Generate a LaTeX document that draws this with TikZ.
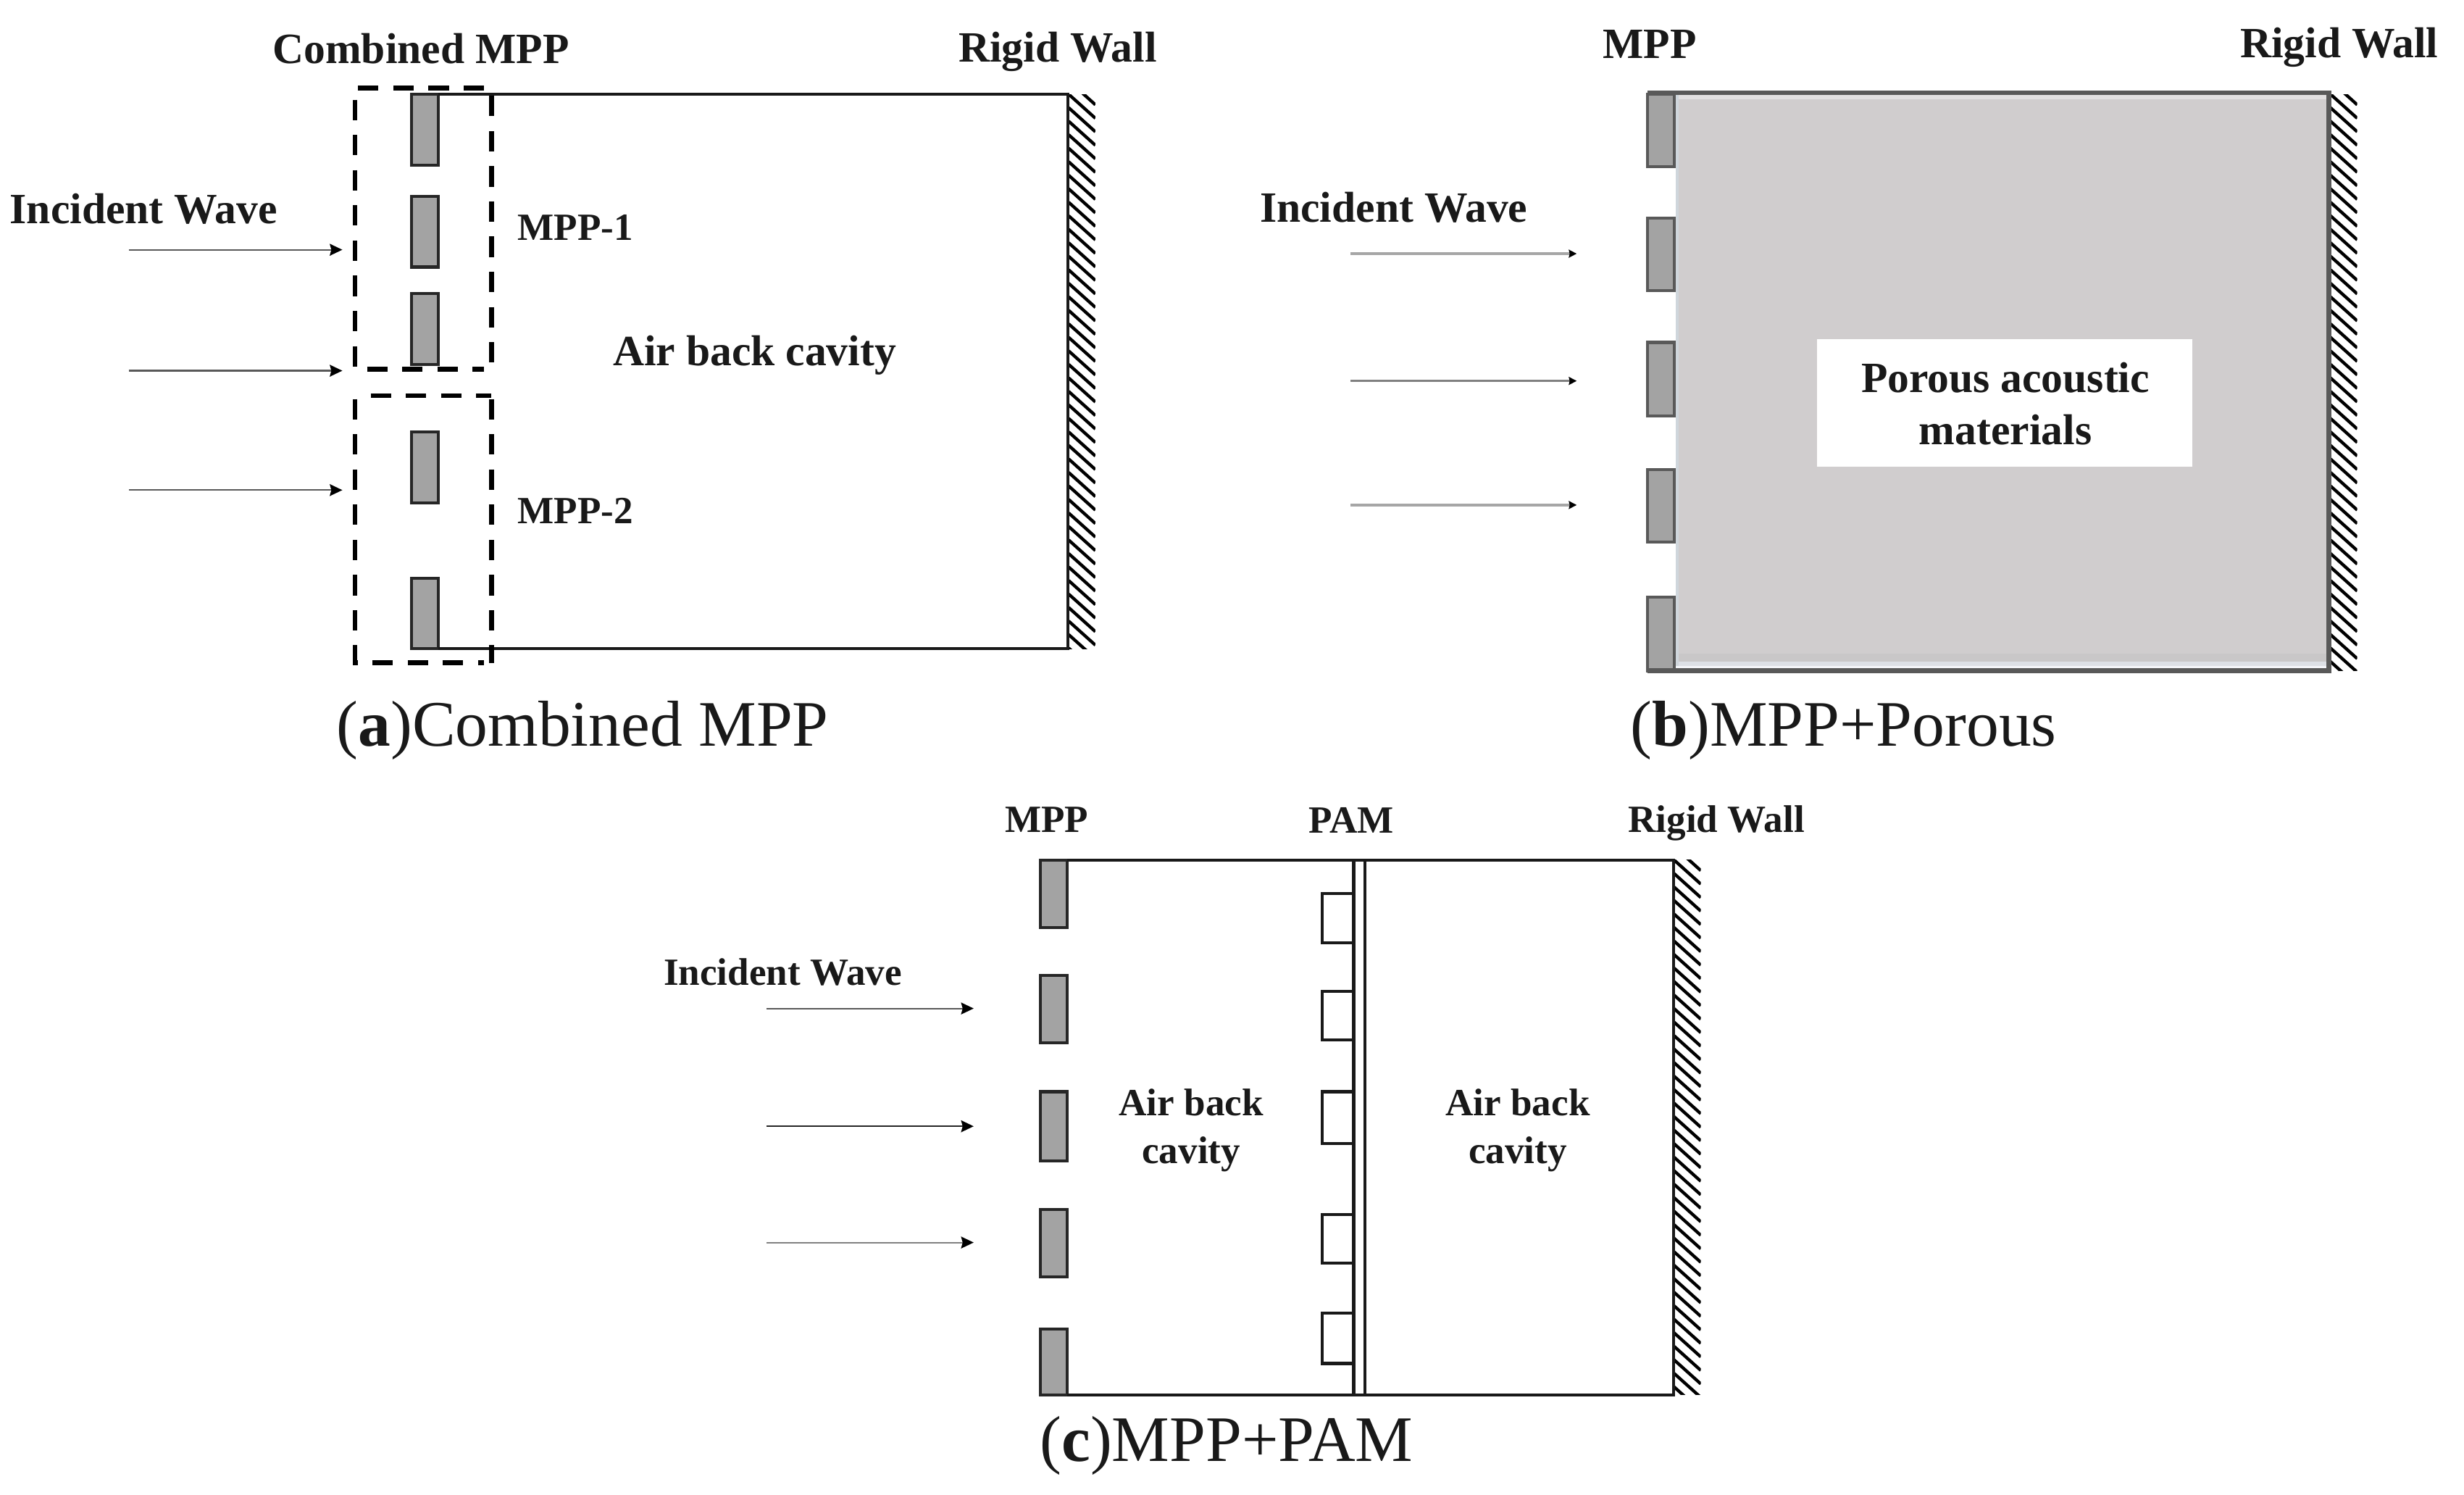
\documentclass[tikz,border=0pt]{standalone}
\usepackage{fontspec}
\setmainfont{Liberation Serif}
\usetikzlibrary{arrows.meta}
\definecolor{plategray}{HTML}{A3A3A3}
\definecolor{porous}{HTML}{D0CDCE}
\definecolor{bandA}{HTML}{DDE0E6}
\definecolor{bandB}{HTML}{F4F5F9}
\definecolor{bandC}{HTML}{CFD6DC}
\definecolor{bandD}{HTML}{E2E0E1}
\definecolor{bandE}{HTML}{C9C7C8}
\newcommand{\hatchwall}[3]{%
  \begin{scope}
    \clip (#1,#2) rectangle (#1+17,#3);
    \pgfmathsetmacro{\hstart}{#2-17.2}
    \pgfmathsetmacro{\hnext}{#2-8.6}
    \pgfmathsetmacro{\hend}{#3+5}
    \foreach \yy in {\hstart,\hnext,...,\hend}
      \draw[line width=2pt] (#1,\yy) -- (#1+17,\yy+15.3);
  \end{scope}}
\tikzset{
  lbl/.style={font=\bfseries\fontsize{#1}{#1}\selectfont, inner sep=0pt, align=center, text=black!90},
  lbl/.default=27.5,
  captext/.style={font=\fontsize{41.3}{41.3}\selectfont, inner sep=0pt, text=black!90},
  mpp/.style={draw=black!85, fill=plategray, line width=1.9pt, minimum width=17pt, minimum height=#1, inner sep=0pt, outer sep=0pt, anchor=north west},
  pam/.style={draw=black!90, fill=white, line width=1.9pt, minimum width=20pt, minimum height=#1, inner sep=0pt, outer sep=0pt, anchor=north west},
  wall/.style={draw=black!90, line width=1.9pt},
  dbox/.style={draw=black, line width=3pt, dash pattern=on 13pt off 9.4pt},
  wave/.style={draw=black!65, line width=1pt, -{Stealth[length=8pt,width=7.5pt,inset=1pt,black]}},
  waveb/.style={draw=black!35, line width=1.6pt, -{Stealth[length=5pt,width=5pt,inset=0.5pt,black]}},
}
\begin{document}
\begin{tikzpicture}[x=1pt,y=-1pt]
\useasboundingbox (0,0) rectangle (1569,951.7);
% ---------- (a)
\node[mpp=45pt] (a1) at (262,60) {};
\node[mpp=45pt] (a2) at (262,125) {};
\node[mpp=45pt] (a3) at (262,187) {};
\node[mpp=45pt] (a4) at (262,275) {};
\node[mpp=45pt] (a5) at (262,368) {};
\coordinate (atr) at (680,60);
\coordinate (abr) at (680,413);
\draw[wall] (a1.north east) -- (atr) -- (abr) -- (a5.south east);
\hatchwall{680.5}{60}{413}
\draw[wall] (atr) -- (abr);
\coordinate (d1tl) at (228,56); \coordinate (d1tr) at (313,56);
\coordinate (d1lt) at (226,63.5); \coordinate (d1bl) at (226,235); \coordinate (d1br) at (308,235);
\coordinate (d1rt) at (313,61); \coordinate (d1rb) at (313,235);
\draw[dbox] (d1tl) -- (d1tr);
\draw[dbox] (d1lt) -- (d1bl) -- (d1br);
\draw[dbox] (d1rt) -- (d1rb);
\coordinate (d2tl) at (236,252); \coordinate (d2tr) at (313,252);
\coordinate (d2lt) at (226,254); \coordinate (d2bl) at (226,422); \coordinate (d2br) at (308,422);
\coordinate (d2rt) at (313,254); \coordinate (d2rb) at (313,422);
\draw[dbox] (d2tl) -- (d2tr);
\draw[dbox] (d2lt) -- (d2bl) -- (d2br);
\draw[dbox] (d2rt) -- (d2rb);
\coordinate (aw1s) at (82,159); \coordinate (aw1e) at (218,159);
\coordinate (aw2s) at (82,236); \coordinate (aw2e) at (218,236);
\coordinate (aw3s) at (82,312); \coordinate (aw3e) at (218,312);
\draw[wave] (aw1s) -- (aw1e);
\draw[wave] (aw2s) -- (aw2e);
\draw[wave] (aw3s) -- (aw3e);
\node[lbl] (acm) at (268,31) {Combined MPP};
\node[lbl] (arw) at (673.5,33) {Rigid Wall};
\node[lbl] (aiw) at (91.5,133) {Incident Wave};
\node[lbl=24.5] (am1) at (366.5,145) {MPP-1};
\node[lbl=24.5] (am2) at (366.5,325) {MPP-2};
\node[lbl] (aab) at (480.5,226) {Air back cavity};
\node[captext] (acap) at (371,465) {({\bfseries a})Combined MPP};
% ---------- (b)
\fill[porous] (1069,60) rectangle (1483,416);
\fill[bandE] (1069,416) rectangle (1483,421);
\fill[bandA] (1069,421) rectangle (1483,424);
\fill[bandB] (1067,424) rectangle (1483,427);
\fill[bandC] (1067,60) rectangle (1069,424);
\fill[bandD] (1069,60) rectangle (1483,63);
\node[mpp=46pt, draw=black!65] (b1) at (1049,60) {};
\node[mpp=46pt, draw=black!65] (b2) at (1049,139) {};
\node[mpp=47pt, draw=black!65] (b3) at (1049,218) {};
\node[mpp=46pt, draw=black!65] (b4) at (1049,299) {};
\node[mpp=47pt, draw=black!65] (b5) at (1049,380) {};
\coordinate (btl) at (1049,59);
\coordinate (btr) at (1483,59);
\coordinate (bbr) at (1483,427);
\coordinate (bbl) at (1049,427);
\hatchwall{1484}{60}{427}
\draw[draw=black!65, line width=3pt] (btl) -- (btr) -- (bbr) -- (bbl);
\node[fill=white, minimum width=239pt, minimum height=81pt, inner sep=0pt] (bbox) at (1276.5,256.5) {};
\node[lbl] (bpam) at (1277,257) {Porous acoustic\\[6pt]materials};
\coordinate (bw1s) at (860,161.5); \coordinate (bw1e) at (1004,161.5);
\coordinate (bw2s) at (860,242.5); \coordinate (bw2e) at (1004,242.5);
\coordinate (bw3s) at (860,321.5); \coordinate (bw3e) at (1004,321.5);
\draw[waveb] (bw1s) -- (bw1e);
\draw[waveb, draw=black!50] (bw2s) -- (bw2e);
\draw[waveb] (bw3s) -- (bw3e);
\node[lbl] (bmpp) at (1050.5,28) {MPP};
\node[lbl] (brw) at (1489.5,30) {Rigid Wall};
\node[lbl] (biw) at (887.5,132) {Incident Wave};
\node[captext] (bcap) at (1174,465) {({\bfseries b})MPP+Porous};
% ---------- (c)
\node[mpp=43pt] (c1) at (662.5,547.5) {};
\node[mpp=43pt] (c2) at (662.5,621) {};
\node[mpp=44pt] (c3) at (662.5,695) {};
\node[mpp=43pt] (c4) at (662.5,770) {};
\node[mpp=42pt] (c5) at (662.5,846) {};
\coordinate (ctr) at (1065.5,547.5);
\coordinate (cbr) at (1065.5,888);
\hatchwall{1066}{547.5}{888}
\draw[wall] (c1.north east) -- (ctr) -- (cbr) -- (c5.south east);
\coordinate (cp1t) at (862,547.5); \coordinate (cp1b) at (862,888);
\coordinate (cp2t) at (869,547.5); \coordinate (cp2b) at (869,888);
\draw[wall] (cp1t) -- (cp1b);
\draw[wall] (cp2t) -- (cp2b);
\node[pam=31pt] (p1) at (842,569) {};
\node[pam=31pt] (p2) at (842,631) {};
\node[pam=33pt] (p3) at (842,695) {};
\node[pam=31pt] (p4) at (842,773) {};
\node[pam=32pt] (p5) at (842,836) {};
\coordinate (cw1s) at (488,642); \coordinate (cw1e) at (620,642);
\coordinate (cw2s) at (488,717); \coordinate (cw2e) at (620,717);
\coordinate (cw3s) at (488,791); \coordinate (cw3e) at (620,791);
\draw[wave] (cw1s) -- (cw1e);
\draw[wave, draw=black!85] (cw2s) -- (cw2e);
\draw[wave, draw=black!50] (cw3s) -- (cw3e);
\node[lbl=24.5] (cmpp) at (666.5,522) {MPP};
\node[lbl=24.5] (cpam) at (860.5,522) {PAM};
\node[lbl=24.5] (crw) at (1093,524) {Rigid Wall};
\node[lbl=24.5] (ciw) at (498.5,619) {Incident Wave};
\node[lbl=24.5] (cab1) at (758.5,719.5) {Air back\\[6pt]cavity};
\node[lbl=24.5] (cab2) at (966.5,719.5) {Air back\\[6pt]cavity};
\node[captext] (ccap) at (781,920.5) {({\bfseries c})MPP+PAM};
\end{tikzpicture}
\end{document}
